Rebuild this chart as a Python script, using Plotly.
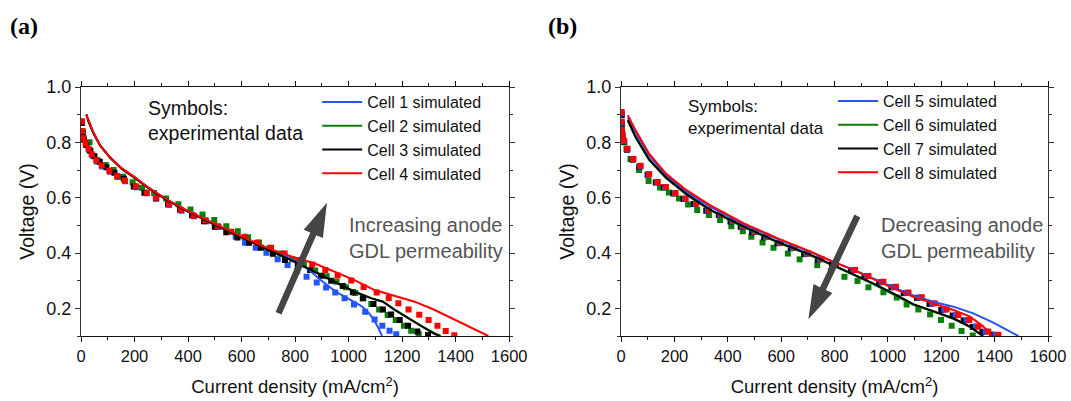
import math
import plotly.graph_objects as go

# ---------------- data: panel (a) ----------------
# experimental (symbols)
a_c1_j = [3, 6, 11, 20, 31, 43, 60, 80, 108, 137, 165, 207, 246, 282, 330, 376, 423, 468, 514, 545, 578, 613, 653, 693, 735, 772, 808, 843, 881, 916, 950, 985, 1020, 1062, 1097, 1126, 1153, 1178]
a_c1_v = [0.87, 0.835, 0.81, 0.792, 0.772, 0.752, 0.731, 0.713, 0.694, 0.675, 0.659, 0.638, 0.616, 0.598, 0.574, 0.553, 0.533, 0.515, 0.494, 0.477, 0.459, 0.437, 0.419, 0.401, 0.377, 0.357, 0.336, 0.314, 0.293, 0.275, 0.257, 0.236, 0.214, 0.188, 0.16, 0.137, 0.119, 0.106]
a_c2_j = [3, 6, 10, 32, 62, 92, 122, 157, 193, 228, 273, 318, 364, 409, 454, 498, 543, 586, 624, 665, 705, 745, 790, 833, 875, 918, 955, 990, 1025, 1055, 1085, 1114, 1146, 1176, 1207, 1234, 1262]
a_c2_v = [0.875, 0.84, 0.815, 0.8, 0.735, 0.718, 0.7, 0.676, 0.656, 0.636, 0.617, 0.597, 0.576, 0.557, 0.539, 0.519, 0.497, 0.479, 0.457, 0.438, 0.418, 0.398, 0.377, 0.358, 0.337, 0.316, 0.296, 0.276, 0.255, 0.236, 0.216, 0.196, 0.176, 0.158, 0.137, 0.119, 0.106]
a_c3_j = [3, 6, 10, 20, 35, 50, 70, 95, 125, 160, 197, 237, 280, 325, 370, 415, 460, 500, 543, 585, 628, 672, 717, 762, 810, 856, 897, 935, 978, 1016, 1053, 1093, 1128, 1159, 1191, 1222, 1257, 1297]
a_c3_v = [0.87, 0.835, 0.81, 0.79, 0.77, 0.75, 0.73, 0.71, 0.69, 0.668, 0.64, 0.618, 0.597, 0.576, 0.556, 0.536, 0.515, 0.495, 0.475, 0.456, 0.437, 0.419, 0.397, 0.375, 0.357, 0.339, 0.318, 0.3, 0.281, 0.258, 0.236, 0.216, 0.196, 0.178, 0.158, 0.137, 0.116, 0.104]
a_c4_j = [3, 5, 9, 17, 28, 40, 57, 77, 106, 135, 163, 205, 245, 280, 328, 373, 421, 465, 512, 562, 611, 658, 710, 761, 812, 864, 913, 959, 1010, 1056, 1105, 1150, 1186, 1224, 1264, 1299, 1332, 1363, 1395]
a_c4_v = [0.875, 0.84, 0.815, 0.796, 0.777, 0.757, 0.735, 0.716, 0.697, 0.678, 0.662, 0.641, 0.618, 0.6, 0.576, 0.555, 0.535, 0.518, 0.497, 0.477, 0.459, 0.437, 0.419, 0.398, 0.375, 0.358, 0.339, 0.319, 0.301, 0.277, 0.257, 0.237, 0.218, 0.196, 0.177, 0.158, 0.137, 0.118, 0.103]
# simulated (lines)
a_s1_j = [20, 30, 45, 71, 109, 154, 200, 251, 315, 393, 470, 547, 624, 702, 760, 810, 850, 890, 930, 970, 1010, 1045, 1070, 1090, 1108, 1125]
a_s1_v = [0.9, 0.872, 0.838, 0.79, 0.745, 0.705, 0.673, 0.637, 0.597, 0.555, 0.518, 0.482, 0.447, 0.413, 0.39, 0.367, 0.34, 0.307, 0.276, 0.25, 0.228, 0.21, 0.19, 0.165, 0.135, 0.1]
a_s2_j = [20, 30, 45, 71, 109, 154, 200, 251, 315, 393, 470, 547, 624, 702, 797, 872, 947, 1022, 1085, 1128, 1172, 1222, 1272, 1322, 1345]
a_s2_v = [0.9, 0.87, 0.836, 0.789, 0.744, 0.703, 0.672, 0.635, 0.595, 0.553, 0.516, 0.48, 0.444, 0.41, 0.37, 0.334, 0.297, 0.261, 0.237, 0.225, 0.196, 0.166, 0.136, 0.11, 0.1]
a_s3_j = [20, 30, 45, 71, 109, 154, 200, 251, 315, 393, 470, 547, 624, 702, 797, 872, 947, 1022, 1085, 1128, 1172, 1222, 1272, 1322, 1341]
a_s3_v = [0.9, 0.87, 0.836, 0.789, 0.744, 0.703, 0.672, 0.635, 0.595, 0.553, 0.516, 0.48, 0.444, 0.41, 0.369, 0.333, 0.296, 0.26, 0.236, 0.224, 0.194, 0.164, 0.134, 0.107, 0.1]
a_s4_j = [20, 30, 45, 71, 109, 154, 200, 251, 315, 393, 470, 547, 624, 702, 797, 872, 947, 1022, 1097, 1184, 1247, 1322, 1397, 1472, 1522]
a_s4_v = [0.9, 0.872, 0.838, 0.79, 0.745, 0.705, 0.675, 0.637, 0.597, 0.555, 0.519, 0.483, 0.449, 0.416, 0.384, 0.363, 0.333, 0.302, 0.266, 0.242, 0.224, 0.194, 0.158, 0.122, 0.1]

# ---------------- data: panel (b) ----------------
b_c5_j = [2, 2, 3, 5, 11, 24, 45, 72, 103, 135, 165, 201, 239, 279, 325, 372, 417, 455, 499, 544, 594, 644, 695, 745, 799, 870, 920, 976, 1022, 1069, 1119, 1166, 1211, 1254, 1295, 1329, 1366, 1403]
b_c5_v = [0.905, 0.872, 0.842, 0.822, 0.804, 0.775, 0.739, 0.713, 0.684, 0.656, 0.638, 0.616, 0.596, 0.578, 0.554, 0.538, 0.515, 0.496, 0.476, 0.458, 0.436, 0.418, 0.397, 0.377, 0.36, 0.338, 0.316, 0.295, 0.277, 0.256, 0.239, 0.217, 0.195, 0.175, 0.157, 0.134, 0.116, 0.104]
b_c6_j = [2, 3, 5, 12, 20, 35, 67, 103, 146, 179, 217, 251, 285, 329, 371, 413, 456, 488, 530, 571, 625, 669, 735, 786, 837, 886, 927, 983, 1033, 1070, 1114, 1158, 1199, 1239, 1276, 1318]
b_c6_v = [0.9, 0.86, 0.83, 0.8, 0.777, 0.74, 0.7, 0.66, 0.637, 0.619, 0.597, 0.575, 0.555, 0.537, 0.519, 0.497, 0.479, 0.459, 0.438, 0.419, 0.398, 0.377, 0.356, 0.335, 0.314, 0.299, 0.276, 0.258, 0.239, 0.214, 0.196, 0.178, 0.158, 0.137, 0.118, 0.102]
b_c7_j = [2, 2, 3, 5, 11, 22, 43, 68, 99, 130, 160, 196, 234, 273, 319, 366, 410, 448, 491, 536, 586, 636, 686, 737, 790, 862, 912, 967, 1013, 1059, 1109, 1156, 1200, 1243, 1284, 1318, 1354, 1391]
b_c7_v = [0.9, 0.868, 0.84, 0.82, 0.802, 0.773, 0.737, 0.712, 0.683, 0.655, 0.637, 0.615, 0.595, 0.577, 0.553, 0.537, 0.514, 0.495, 0.475, 0.457, 0.435, 0.417, 0.396, 0.376, 0.359, 0.337, 0.315, 0.294, 0.276, 0.255, 0.238, 0.216, 0.194, 0.174, 0.156, 0.133, 0.115, 0.105]
b_c8_j = [2, 2, 3, 5, 10, 23, 46, 73, 105, 137, 168, 204, 242, 282, 329, 377, 422, 460, 504, 549, 599, 650, 701, 751, 805, 877, 927, 983, 1030, 1077, 1127, 1175, 1220, 1264, 1305, 1339, 1376, 1414]
b_c8_v = [0.91, 0.875, 0.845, 0.825, 0.807, 0.777, 0.74, 0.715, 0.685, 0.657, 0.639, 0.617, 0.597, 0.579, 0.555, 0.539, 0.516, 0.497, 0.477, 0.459, 0.437, 0.419, 0.398, 0.378, 0.361, 0.339, 0.317, 0.296, 0.278, 0.257, 0.24, 0.218, 0.196, 0.176, 0.158, 0.134, 0.116, 0.104]
b_s5_j = [25, 54, 105, 168, 245, 333, 460, 587, 713, 800, 871, 945, 1020, 1095, 1170, 1245, 1320, 1395, 1457, 1489]
b_s5_v = [0.89, 0.836, 0.752, 0.681, 0.621, 0.568, 0.503, 0.45, 0.402, 0.366, 0.34, 0.308, 0.276, 0.247, 0.224, 0.206, 0.182, 0.148, 0.116, 0.1]
b_s6_j = [25, 54, 105, 168, 245, 333, 460, 587, 713, 795, 871, 945, 1020, 1095, 1170, 1245, 1308, 1345, 1358]
b_s6_v = [0.878, 0.818, 0.736, 0.671, 0.611, 0.555, 0.493, 0.438, 0.39, 0.355, 0.321, 0.288, 0.252, 0.213, 0.188, 0.162, 0.132, 0.106, 0.1]
b_s7_j = [25, 54, 105, 168, 245, 333, 460, 587, 713, 795, 871, 945, 1020, 1095, 1170, 1245, 1308, 1345, 1355]
b_s7_v = [0.88, 0.82, 0.738, 0.673, 0.613, 0.557, 0.495, 0.44, 0.392, 0.357, 0.323, 0.29, 0.254, 0.215, 0.19, 0.164, 0.134, 0.107, 0.1]
b_s8_j = [25, 54, 105, 168, 245, 333, 460, 587, 713, 800, 871, 945, 1020, 1095, 1170, 1245, 1308, 1358, 1383, 1389]
b_s8_v = [0.898, 0.844, 0.759, 0.687, 0.627, 0.573, 0.507, 0.453, 0.404, 0.366, 0.339, 0.305, 0.272, 0.242, 0.218, 0.194, 0.17, 0.134, 0.107, 0.1]

x_ticks = [0, 200, 400, 600, 800, 1000, 1200, 1400, 1600]
y_ticks = [0.2, 0.4, 0.6, 0.8, 1.0]

BLUE = "#2255FF"
GREEN = "#0A800A"
BLACK = "#000000"
RED = "#FF0000"
FONT = "Liberation Sans, Arial, sans-serif"
SERIF = "Liberation Serif, Times New Roman, serif"

W, H = 1071, 401
PX_A = (80.7, 509.0)
PX_B = (621.0, 1048.0)
PY = (336.0, 87.0)          # bottom, top pixel rows of both plot areas
XR = (0, 1600)
YR = (0.1, 1.0)

ML, MR, MT, MB = PX_A[0], W - PX_B[1], PY[1], H - PY[0]
PW, PH = W - ML - MR, H - MT - MB


def pxx(px):
    return (px - ML) / PW


def pxy(py):
    return (H - MB - py) / PH


fig = go.Figure()


def sym(x, y, c, xa, ya):
    fig.add_trace(go.Scatter(x=x, y=y, mode="markers", xaxis=xa, yaxis=ya, showlegend=False,
                             marker=dict(symbol="square", size=6, color=c, line=dict(width=0))))


def sim(x, y, c, name, xa, ya, leg):
    fig.add_trace(go.Scatter(x=x, y=y, mode="lines", name=name, xaxis=xa, yaxis=ya, legend=leg,
                             line=dict(color=c, width=2)))


sym(a_c1_j, a_c1_v, BLUE, "x", "y")
sym(a_c2_j, a_c2_v, GREEN, "x", "y")
sym(a_c3_j, a_c3_v, BLACK, "x", "y")
sym(a_c4_j, a_c4_v, RED, "x", "y")
sim(a_s1_j, a_s1_v, BLUE, "Cell 1 simulated", "x", "y", "legend")
sim(a_s2_j, a_s2_v, GREEN, "Cell 2 simulated", "x", "y", "legend")
sim(a_s3_j, a_s3_v, BLACK, "Cell 3 simulated", "x", "y", "legend")
sim(a_s4_j, a_s4_v, RED, "Cell 4 simulated", "x", "y", "legend")

sym(b_c6_j, b_c6_v, GREEN, "x2", "y2")
sym(b_c7_j, b_c7_v, BLACK, "x2", "y2")
sym(b_c5_j, b_c5_v, BLUE, "x2", "y2")
sym(b_c8_j, b_c8_v, RED, "x2", "y2")
sim(b_s5_j, b_s5_v, BLUE, "Cell 5 simulated", "x2", "y2", "legend2")
sim(b_s6_j, b_s6_v, GREEN, "Cell 6 simulated", "x2", "y2", "legend2")
sim(b_s7_j, b_s7_v, BLACK, "Cell 7 simulated", "x2", "y2", "legend2")
sim(b_s8_j, b_s8_v, RED, "Cell 8 simulated", "x2", "y2", "legend2")


def xaxis(dom, anchor):
    return dict(domain=dom, anchor=anchor, range=list(XR), tickvals=x_ticks, automargin=False,
                showline=True, linecolor="#111", linewidth=1.3,
                mirror="ticks", ticks="outside", ticklen=5, tickwidth=1.3, tickcolor="#111",
                minor=dict(ticks="outside", ticklen=3, tickwidth=1, dtick=100, tick0=0, tickcolor="#111"),
                showgrid=False, zeroline=False,
                tickfont=dict(family=FONT, size=16.5, color="#111"),
                title=dict(text="Current density (mA/cm<sup>2</sup>)", font=dict(family=FONT, size=18.5, color="#111"),
                           standoff=16))


def yaxis(anchor):
    return dict(domain=[0, 1], anchor=anchor, range=list(YR), tickvals=y_ticks, automargin=False,
                tickformat=".1f", showline=True, linecolor="#333", linewidth=1.3, mirror="ticks",
                ticks="outside", ticklen=5, tickwidth=1.3, tickcolor="#333",
                minor=dict(ticks="outside", ticklen=3, tickwidth=1, dtick=0.1, tick0=0, tickcolor="#333"),
                showgrid=False, zeroline=False,
                tickfont=dict(family=FONT, size=18, color="#111"),
                title=dict(text="Voltage (V)", font=dict(family=FONT, size=19.5, color="#111"), standoff=6))


LEG_FONT = dict(family=FONT, size=16, color="#111")
fig.update_layout(
    template="none",
    width=W, height=H, margin=dict(l=ML, r=MR, t=MT, b=MB, autoexpand=False),
    paper_bgcolor="white", plot_bgcolor="white",
    xaxis=xaxis([0, pxx(PX_A[1])], "y"),
    xaxis2=xaxis([pxx(PX_B[0]), 1], "y2"),
    yaxis=yaxis("x"),
    yaxis2=yaxis("x2"),
    legend=dict(x=pxx(317), y=pxy(85), xanchor="left", yanchor="top", bgcolor="rgba(0,0,0,0)",
                font=LEG_FONT, itemwidth=40, tracegroupgap=0, borderwidth=0),
    legend2=dict(x=pxx(833), y=pxy(84), xanchor="left", yanchor="top", bgcolor="rgba(0,0,0,0)",
                 font=LEG_FONT, itemwidth=40, tracegroupgap=0, borderwidth=0),
    showlegend=True,
)

ann = [
    dict(text="<b>(a)</b>", x=pxx(8), y=pxy(26), xanchor="left", yanchor="middle",
         font=dict(family=SERIF, size=24, color="#000")),
    dict(text="<b>(b)</b>", x=pxx(546), y=pxy(26), xanchor="left", yanchor="middle",
         font=dict(family=SERIF, size=24, color="#000")),
    dict(text="Symbols:<br>experimental data", x=pxx(146), y=pxy(95), xanchor="left", yanchor="top",
         align="left", font=dict(family=FONT, size=19.5, color="#111")),
    dict(text="Symbols:<br>experimental data", x=pxx(686), y=pxy(95), xanchor="left", yanchor="top",
         align="left", font=dict(family=FONT, size=17, color="#111")),
    dict(text="Increasing anode<br>GDL permeability", x=pxx(347), y=pxy(238), xanchor="left",
         yanchor="middle", align="left", font=dict(family=FONT, size=20, color="#555")),
    dict(text="Decreasing anode<br>GDL permeability", x=pxx(879), y=pxy(238), xanchor="left",
         yanchor="middle", align="left", font=dict(family=FONT, size=20, color="#555")),
]
for a in ann:
    a.update(xref="paper", yref="paper", showarrow=False)
fig.update_layout(annotations=ann)


def to_data(px, py, pxr):
    xs = (pxr[1] - pxr[0]) / (XR[1] - XR[0])
    ys = (PY[0] - PY[1]) / (YR[1] - YR[0])
    return XR[0] + (px - pxr[0]) / xs, YR[0] + (PY[0] - py) / ys


def arrow_shape(tail, tip, pxr, xref, yref, sw=6.5, hl=34, hw=10.5, color="#454545"):
    dx, dy = tip[0] - tail[0], tip[1] - tail[1]
    L = math.hypot(dx, dy)
    ux, uy = dx / L, dy / L
    nx, ny = -uy, ux
    bx, by = tip[0] - hl * ux, tip[1] - hl * uy
    pts = [(tail[0] + nx * sw / 2, tail[1] + ny * sw / 2), (bx + nx * sw / 2, by + ny * sw / 2),
           (bx + nx * hw, by + ny * hw), tip, (bx - nx * hw, by - ny * hw),
           (bx - nx * sw / 2, by - ny * sw / 2), (tail[0] - nx * sw / 2, tail[1] - ny * sw / 2)]
    d = [to_data(p[0], p[1], pxr) for p in pts]
    path = "M " + " L ".join(f"{x:.3f},{y:.5f}" for x, y in d) + " Z"
    return dict(type="path", path=path, xref=xref, yref=yref, fillcolor=color, line=dict(width=0), layer="above")


fig.update_layout(shapes=[
    arrow_shape((278.3, 313.3), (326.7, 202.7), PX_A, "x", "y"),
    arrow_shape((857.3, 216.0), (808.3, 319.3), PX_B, "x2", "y2"),
])

fig.write_html("out.html", config={"displayModeBar": False},
               post_script="document.body.style.margin='0';document.body.style.overflow='hidden';")
